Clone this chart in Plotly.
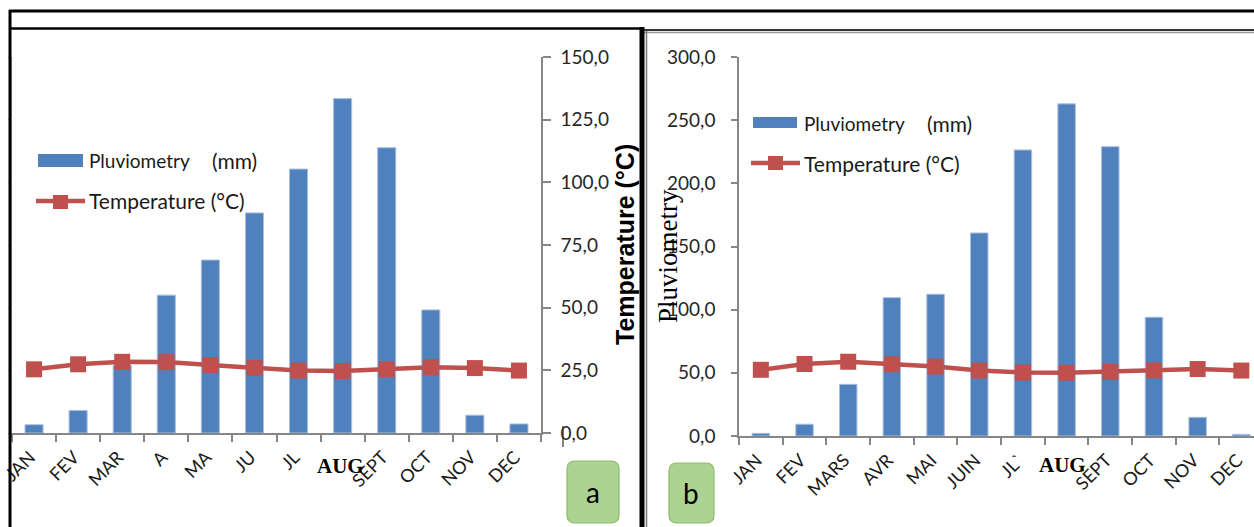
import plotly.graph_objects as go

W, H = 1254, 527

months = ["JAN", "FEV", "MAR", "AVR", "MAI", "JUIN", "JUIL", "AUG", "SEPT", "OCT", "NOV", "DEC"]
ticks_a = ["JAN", "FEV", "MAR", "A", "MA", "JU", "JL", "", "SEPT", "OCT", "NOV", "DEC"]
ticks_b = ["JAN", "FEV", "MARS", "AVR", "MAI", "JUIN", "JL`", "", "SEPT", "OCT", "NOV", "DEC"]

rain_a = [3.3, 9.0, 27.0, 55.0, 69.0, 87.8, 105.3, 133.4, 113.8, 49.1, 7.1, 3.6]
temp_a = [25.4, 27.4, 28.4, 28.3, 27.1, 26.0, 24.9, 24.7, 25.4, 26.2, 25.9, 24.9]
rain_b = [2.1, 9.3, 40.9, 109.5, 112.2, 160.7, 226.4, 262.9, 229.0, 94.0, 14.8, 1.3]
temp_b = [26.2, 28.5, 29.4, 28.4, 27.5, 25.9, 25.1, 25.0, 25.4, 26.0, 26.5, 25.9]

BLUE = "#4f81bd"
RED = "#c0504d"
AX = "#868686"
TXT = "#262626"
FONT = "Lato"


def px(x):
    return x / W


def py(y):
    return 1 - y / H


fig = go.Figure()

fig.add_trace(go.Bar(x=months, y=rain_a, xaxis="x", yaxis="y", width=0.41,
                     marker=dict(color=BLUE, line=dict(color="#a9bfdf", width=1)),
                     showlegend=False))
fig.add_trace(go.Scatter(x=months, y=temp_a, xaxis="x", yaxis="y3", mode="lines+markers",
                         line=dict(color=RED, width=4.5),
                         marker=dict(symbol="square", size=16, color=RED),
                         showlegend=False))
fig.add_trace(go.Bar(x=months, y=rain_b, xaxis="x2", yaxis="y2", width=0.40,
                     marker=dict(color=BLUE, line=dict(color="#a9bfdf", width=1)),
                     showlegend=False))
fig.add_trace(go.Scatter(x=months, y=temp_b, xaxis="x2", yaxis="y4", mode="lines+markers",
                         line=dict(color=RED, width=4.5),
                         marker=dict(symbol="square", size=16, color=RED),
                         showlegend=False))

xcommon = dict(type="category", categoryorder="array", categoryarray=months,
               tickmode="array", tickvals=months, tickson="boundaries",
               showline=True, linecolor=AX, linewidth=1.5, ticks="outside",
               ticklen=7, tickcolor=AX, tickwidth=1.5, tickangle=-45,
               tickfont=dict(family=FONT, size=18, color="#1a1a1a"),
               ticklabelstandoff=5, ticklabelshift=-4,
               showgrid=False, zeroline=False, fixedrange=True, automargin=False)

fig.update_layout(
    template="none",
    width=W, height=H, margin=dict(l=0, r=0, t=0, b=0, pad=0, autoexpand=False),
    paper_bgcolor="white", plot_bgcolor="rgba(0,0,0,0)",
    separators=", ", bargap=0.5, showlegend=False,
    xaxis=dict(xcommon, domain=[px(12), px(541)], range=[-0.5, 11.5],
               ticktext=ticks_a, anchor="y"),
    yaxis=dict(domain=[py(433), py(57)], range=[0, 150], dtick=25, tickformat=".1f",
               side="right", anchor="x", showline=True, linecolor=AX, linewidth=1.5,
               ticks="outside", ticklen=8, tickcolor=AX, tickwidth=1.5,
               tickfont=dict(family=FONT, size=19, color=TXT), ticklabelstandoff=6,
               showgrid=False, zeroline=False, fixedrange=True, automargin=False),
    yaxis3=dict(overlaying="y", side="left", anchor="x", range=[0, 150], dtick=25,
                showticklabels=False, showline=True, linecolor="#b4b4b4", linewidth=1,
                ticks="outside", ticklen=3, tickcolor="#b4b4b4",
                showgrid=False, zeroline=False, fixedrange=True, automargin=False),
    xaxis2=dict(xcommon, domain=[px(739), 1.0], range=[-0.5, 11.29],
                ticktext=ticks_b, anchor="y2"),
    yaxis2=dict(domain=[py(436), py(57)], range=[0, 300], dtick=50, tickformat=".1f",
                side="left", anchor="x2", showline=True, linecolor=AX, linewidth=1.5,
                ticks="outside", ticklen=6, tickcolor=AX, tickwidth=1.5,
                tickfont=dict(family=FONT, size=19, color=TXT), ticklabelstandoff=12,
                showgrid=False, zeroline=False, fixedrange=True, automargin=False),
    yaxis4=dict(overlaying="y2", anchor="x2", range=[0, 150], visible=False,
                fixedrange=True, automargin=False),
)

shapes = []


def line(x0, y0, x1, y1, color="black", width=2):
    shapes.append(dict(type="line", xref="paper", yref="paper",
                       x0=px(x0), y0=py(y0), x1=px(x1), y1=py(y1),
                       line=dict(color=color, width=width)))


def rect(x0, y0, x1, y1, color):
    shapes.append(dict(type="rect", xref="paper", yref="paper",
                       x0=px(x0), y0=py(y0), x1=px(x1), y1=py(y1),
                       fillcolor=color, line=dict(width=0)))


def rounded(x0, y0, x1, y1, r):
    pts = (f"M {px(x0 + r)},{py(y0)} L {px(x1 - r)},{py(y0)} Q {px(x1)},{py(y0)} {px(x1)},{py(y0 + r)} "
           f"L {px(x1)},{py(y1 - r)} Q {px(x1)},{py(y1)} {px(x1 - r)},{py(y1)} "
           f"L {px(x0 + r)},{py(y1)} Q {px(x0)},{py(y1)} {px(x0)},{py(y1 - r)} "
           f"L {px(x0)},{py(y0 + r)} Q {px(x0)},{py(y0)} {px(x0 + r)},{py(y0)} Z")
    shapes.append(dict(type="path", xref="paper", yref="paper", path=pts,
                       fillcolor="#acd392", line=dict(color="#8dbb6c", width=1.2)))


# frames
line(9, 11, 1254, 11, "black", 3)
line(10, 10, 10, 527, "black", 3)
line(10, 28.5, 641, 28.5, "black", 2.5)
line(643, 30, 1254, 30, "#333333", 2)
line(643, 32.5, 1254, 32.5, "#9a9a9a", 1.5)
line(642, 27, 642, 527, "black", 5)
line(646.5, 31, 646.5, 527, "#777777", 1.5)
line(563, 426, 563, 447, "#333333", 1.2)

# legend a
rect(38, 154, 83, 167, BLUE)
line(36, 201, 85, 201, RED, 4.5)
rect(53, 195, 68, 209, RED)
# legend b
rect(753, 117, 797, 128, BLUE)
line(751, 163, 800, 163, RED, 4.5)
rect(768, 156, 783, 170, RED)

# label boxes
rounded(567, 461, 619, 523, 8)
rounded(669, 463, 714, 523, 8)

fig.update_layout(shapes=shapes)

ann = []


def text(x, y, s, size=19, family=FONT, color="#1a1a1a", xanchor="left", angle=0, bold=False):
    ann.append(dict(xref="paper", yref="paper", x=px(x), y=py(y), text=f"<b>{s}</b>" if bold else s,
                    showarrow=False, xanchor=xanchor, yanchor="middle", textangle=angle,
                    font=dict(family=family, size=size, color=color)))


text(87, 161, "Pluviometry", size=19)
text(210, 161, "(mm)", size=21)
text(87, 201, "Temperature (°C)", size=21)
text(802, 123, "Pluviometry", size=19)
text(925, 123, "(mm)", size=21)
text(802, 163, "Temperature (°C)", size=21)
text(625, 245, "Temperature (°C)", size=25, family="Liberation Sans", color="black",
     xanchor="center", angle=-90, bold=True)
text(668, 256, "Pluviometry", size=27, family="Liberation Serif", color="black",
     xanchor="center", angle=-90)
text(340, 466, "AUG", size=21, family="Liberation Serif", color="black", xanchor="center", bold=True)
text(1062, 465, "AUG", size=21, family="Liberation Serif", color="black", xanchor="center", bold=True)
text(593, 492, "a", size=28, color="black", xanchor="center")
text(691, 493, "b", size=28, color="black", xanchor="center")

fig.update_layout(annotations=ann)

fig.write_html("out.html", config={"displayModeBar": False},
               post_script="document.body.style.margin='0px';")
